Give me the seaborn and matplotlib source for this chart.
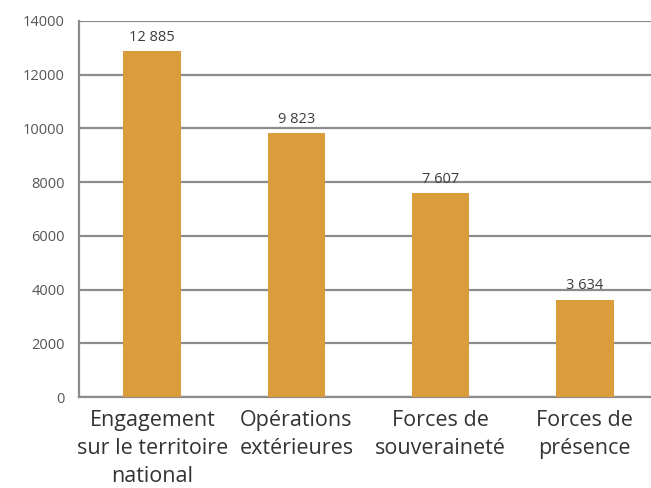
import matplotlib
matplotlib.use("Agg")
import matplotlib.pyplot as plt
import seaborn as sns

# Data
categories = ["Engagement\nsur le territoire\nnational", "Opérations\nextérieures",
              "Forces de\nsouveraineté", "Forces de\nprésence"]
values = [12885, 9823, 7607, 3634]
value_labels = ["12 885", "9 823", "7 607", "3 634"]
y_ticks = [0, 2000, 4000, 6000, 8000, 10000, 12000, 14000]

sns.set_style("white")
plt.rcParams['font.family'] = ['Open Sans', 'DejaVu Sans']

fig = plt.figure(figsize=(6.51, 4.88), dpi=100)
ax = fig.add_axes([0.121, 0.186, 0.879, 0.771])

sns.barplot(x=list(range(len(values))), y=values, color="#DB9C3B",
            saturation=1, width=0.4, linewidth=0, ax=ax, zorder=3)

for i, (v, lab) in enumerate(zip(values, value_labels)):
    ax.text(i, v + 230, lab, ha="center", va="bottom", fontsize=10.5, color="#3d3d3d")

ax.set_ylim(0, 14000)
ax.set_xlim(-0.51, 3.46)
ax.set_yticks(y_ticks)
ax.set_yticklabels([str(t) for t in y_ticks], fontsize=10.5, color="#555555")
ax.set_xticks(range(len(categories)))
ax.set_xticklabels(categories, fontsize=15.5, color="#333333", linespacing=1.45)
ax.tick_params(axis="x", length=0, pad=9)
ax.tick_params(axis="y", length=0, pad=10)

ax.yaxis.grid(True, color="#8c8c8c", linewidth=1.6, zorder=0)
for s in ["top", "right"]:
    ax.spines[s].set_visible(False)
ax.spines["left"].set_color("#8c8c8c")
ax.spines["left"].set_linewidth(1.6)
ax.spines["bottom"].set_color("#8c8c8c")
ax.spines["bottom"].set_linewidth(1.6)
ax.set_xlabel("")
ax.set_ylabel("")

fig.savefig("out.png", dpi=100)
